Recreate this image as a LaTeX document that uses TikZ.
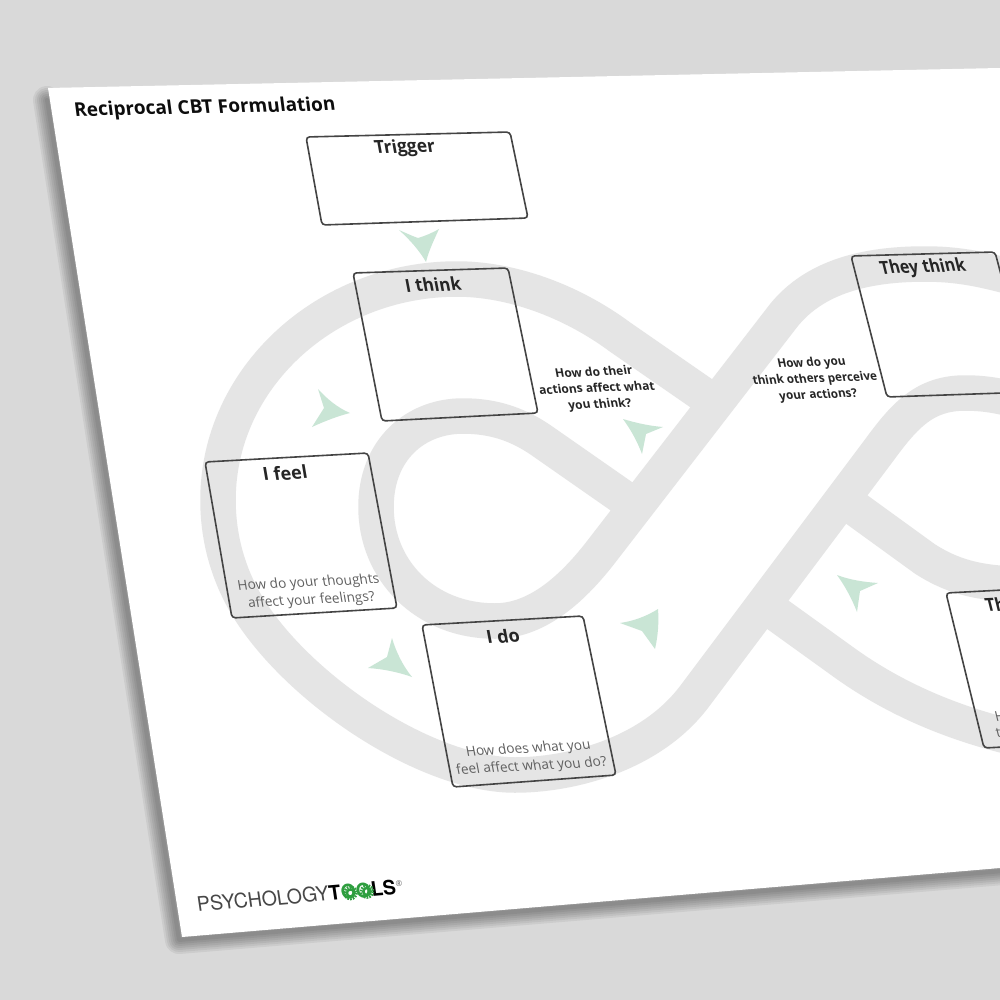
\documentclass[tikz,border=0pt]{standalone}
\usepackage{fontspec}
\setmainfont{Open Sans}
\newfontfamily\logofont{TeX Gyre Heros}
\definecolor{bgc}{HTML}{D9D9D9}
\definecolor{bandc}{HTML}{E5E5E5}
\definecolor{arrowc}{HTML}{C9E5D5}
\definecolor{boxc}{HTML}{444444}
\definecolor{qgrey}{HTML}{606060}
\definecolor{logog}{HTML}{2E9E3F}
\tikzset{
  band/.style={draw=bandc,line width=35.5pt,line cap=butt,line join=round},
  fbox/.style={draw=boxc,line width=1.6pt,rounded corners=3.5pt},
  tip/.style={fill=arrowc},
  pg/.style n args={3}{cm={#1,#2,-#3,1,(0,0)}},
  head/.style={font=\bfseries\fontsize{18}{21}\selectfont,text=black!85,inner sep=0pt},
  qdark/.style={font=\bfseries\fontsize{12}{16}\selectfont,text=black!85,align=center,inner sep=0pt},
  qlight/.style={font=\fontsize{13.6}{17.5}\selectfont,text=qgrey,align=center,inner sep=0pt},
  gear/.style={draw=logog,line width=2.6pt,dash pattern=on 1.6pt off 1.1pt},
  gearcore/.style={draw=logog,line width=2.4pt},
}
\begin{document}
\begin{tikzpicture}[x=1pt,y=-1pt]
\useasboundingbox (0,0) rectangle (1000,1000);
\clip (0,0) rectangle (1000,1000);
\fill[bgc] (0,0) rectangle (1000,1000);
% shadow
\foreach \w in {28,24,20,16,12,8,4}{
  \draw[black,line width=\w pt,opacity=.06,line join=round,line cap=round] (47,100) -- (179,940) -- (1015,870);
}
% paper
\fill[white] (48,88) -- (1000,68) -- (1000,868) -- (182,937) -- cycle;
% bands
\draw[band] (711,400) -- (620,337) .. controls (570,300) and (510,279) .. (457,279)
  .. controls (326,279) and (218,378) .. (218,500)
  .. controls (218,545) and (232,585) .. (255,618)
  .. controls (310,697) and (430,775) .. (515,775)
  .. controls (570,775) and (650,755) .. (694,697)
  -- (880,449) .. controls (905,415) and (925,393) .. (965,393)
  .. controls (985,393) and (1000,396) .. (1015,400);
\draw[band] (631,503) -- (545,443) .. controls (520,425) and (495,416) .. (463,416)
  .. controls (415,416) and (376,450) .. (376,507)
  .. controls (376,570) and (425,621) .. (495,621)
  .. controls (535,621) and (570,592) .. (601,552)
  -- (784,315) .. controls (815,277) and (865,264) .. (925,264)
  .. controls (960,264) and (985,270) .. (1015,278);
\draw[band] (845,501) -- (925,559) .. controls (950,575) and (975,583) .. (1015,584);
\draw[band] (767,607) -- (842,661) .. controls (875,685) and (930,718) .. (1015,738);
% arrowheads
\fill[tip] (399,230) .. controls (406,233) and (412,236) .. (418,238) .. controls (425,236) and (432,233) .. (439,229)
  .. controls (434,240) and (429,250) .. (426,262) .. controls (419,250) and (410,240) .. (399,230) -- cycle;
\fill[tip] (318,389) -- (324,408) -- (312,427) .. controls (325,421) and (338,416) .. (350,413) .. controls (338,408) and (327,399) .. (318,389) -- cycle;
\fill[tip] (623,419) .. controls (636,423) and (650,426) .. (663,427) -- (646,434) -- (642,454) .. controls (637,441) and (631,430) .. (623,419) -- cycle;
\fill[tip] (620,623) .. controls (634,621) and (647,616) .. (658,609) .. controls (659,622) and (658,636) .. (655,649) -- (642,631) -- cycle;
\fill[tip] (392,638) .. controls (396,652) and (403,666) .. (412,677) .. controls (398,672) and (383,669) .. (368,668) -- (387,657) -- cycle;
\fill[tip] (837,575) .. controls (850,580) and (864,582) .. (878,583) -- (860,591) -- (857,612) .. controls (852,599) and (845,586) .. (837,575) -- cycle;
% boxes
\draw[fbox] (306,137) -- (510,132) -- (528,218) -- (322,225) -- cycle;
\draw[fbox] (353,273) -- (508,268) -- (538,413) -- (382,421) -- cycle;
\draw[fbox] (205,462) -- (368,453) -- (397,608) -- (232,618) -- cycle;
\draw[fbox] (422,625) -- (583,616) -- (616,775) -- (453,787) -- cycle;
\draw[fbox] (851,256) -- (995,252) -- (1032,392) -- (887,397) -- cycle;
\draw[fbox] (946,593) -- (1060,587) -- (1100,742) -- (984,748) -- cycle;
% texts
\node[font=\bfseries\fontsize{19}{22}\selectfont,text=black!95,inner sep=0pt,pg={1}{0.022}{0.13}] (title) at (205,108.5) {Reciprocal CBT Formulation};
\node[head,pg={.97}{0.027}{0.18}] (trigger) at (405,148) {Trigger};
\node[head,pg={.95}{0.032}{0.19}] (ithink) at (433,284.5) {I think};
\node[head,pg={1}{0.05}{0.17}] (ifeel) at (285,473) {I feel};
\node[head,pg={1}{0.055}{0.19}] (ido) at (503,636) {I do};
\node[head,pg={.89}{0.03}{0.25}] (theythink) at (923,268) {They think};
\node[head,anchor=base west,pg={.9}{0.04}{0.25}] (theydo) at (987,612) {Th};
\node[qdark,pg={1}{0.04}{0.19}] (qa) at (597,389) {How do their\\actions affect what\\you think?};
\node[qdark,pg={.97}{0.035}{0.21}] (qb) at (815,379.5) {How do you\\think others perceive\\your actions?};
\node[qlight,pg={1}{0.05}{0.17}] (qc) at (310,592) {How do your thoughts\\affect your feelings?};
\node[qlight,pg={1}{0.055}{0.19}] (qd) at (530,758) {How does what you\\feel affect what you do?};
\node[qlight,anchor=base west,pg={1}{0.05}{0.25}] (qe) at (996,722) {H};
\node[qlight,anchor=base west,pg={1}{0.05}{0.25}] (qf) at (997,738) {t};
% logo
\node[anchor=base west,inner sep=0pt,text=black!72,font=\logofont\fontsize{21}{24}\selectfont,cm={.925,.08,-.14,.95,(0,0)}] (logo) at (198,912)
  {PSYCHOLOGY\textcolor{black}{\bfseries T\textcolor{logog}{OO}LS}};
\draw[gear] (350.5,893) circle[radius=6];
\draw[gearcore] (350.5,893) circle[radius=3.6];
\draw[gear] (367,891.5) circle[radius=6];
\draw[gearcore] (367,891.5) circle[radius=3.6];
\node[inner sep=0pt,text=black!60,font=\fontsize{8}{9}\selectfont] (reg) at (399,884) {®};
\end{tikzpicture}
\end{document}
